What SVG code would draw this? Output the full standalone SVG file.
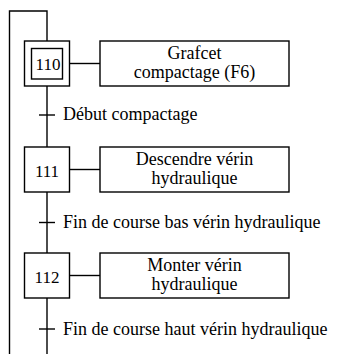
<svg xmlns="http://www.w3.org/2000/svg" width="339" height="354" viewBox="0 0 339 354" font-family="'Liberation Serif', 'DejaVu Serif', serif">
<style>
.ln{stroke:#000;stroke-width:1.4;fill:none}
.bx{stroke:#000;stroke-width:1.4;fill:#fff}
text{font-family:'Liberation Serif','DejaVu Serif',serif;font-size:18px;fill:#000}
.num{font-size:17px;text-anchor:middle}
.act{text-anchor:middle}
</style>
<rect width="339" height="354" fill="#fff"/>
<g id="connectors">
<path class="ln" d="M9.5,354 V11 H47 V41"/>
<path class="ln" d="M47,86 V147"/>
<path class="ln" d="M47,192 V253"/>
<path class="ln" d="M47,298 V354"/>
<path class="ln" d="M69.5,63.5 H100"/>
<path class="ln" d="M69.5,169.5 H100"/>
<path class="ln" d="M69.5,275.5 H100"/>
</g>
<g id="t1"><path class="ln" d="M39,115 H55"/><text x="63" y="120">Début compactage</text></g>
<g id="t2"><path class="ln" d="M39,222.5 H55"/><text x="63" y="228">Fin de course bas vérin hydraulique</text></g>
<g id="t3"><path class="ln" d="M39,329 H55"/><text x="63" y="335">Fin de course haut vérin hydraulique</text></g>
<g id="s110">
<rect class="bx" x="24.5" y="41" width="45" height="45"/>
<rect class="bx" x="31.5" y="48.5" width="31" height="30.5"/>
<text class="num" x="48" y="70">110</text>
</g>
<g id="a110">
<rect class="bx" x="100" y="41" width="189" height="45"/>
<text class="act" x="194.5" y="59">Grafcet</text>
<text class="act" x="194.5" y="77.5">compactage (F6)</text>
</g>
<g id="s111">
<rect class="bx" x="24.5" y="147" width="45" height="45"/>
<text class="num" x="47" y="176.5">111</text>
</g>
<g id="a111">
<rect class="bx" x="100" y="147" width="189" height="45"/>
<text class="act" x="194.5" y="165">Descendre vérin</text>
<text class="act" x="194.5" y="183.5">hydraulique</text>
</g>
<g id="s112">
<rect class="bx" x="24.5" y="253" width="45" height="45"/>
<text class="num" x="47" y="282.5">112</text>
</g>
<g id="a112">
<rect class="bx" x="100" y="253" width="189" height="45"/>
<text class="act" x="194.5" y="271">Monter vérin</text>
<text class="act" x="194.5" y="289.5">hydraulique</text>
</g>
</svg>
